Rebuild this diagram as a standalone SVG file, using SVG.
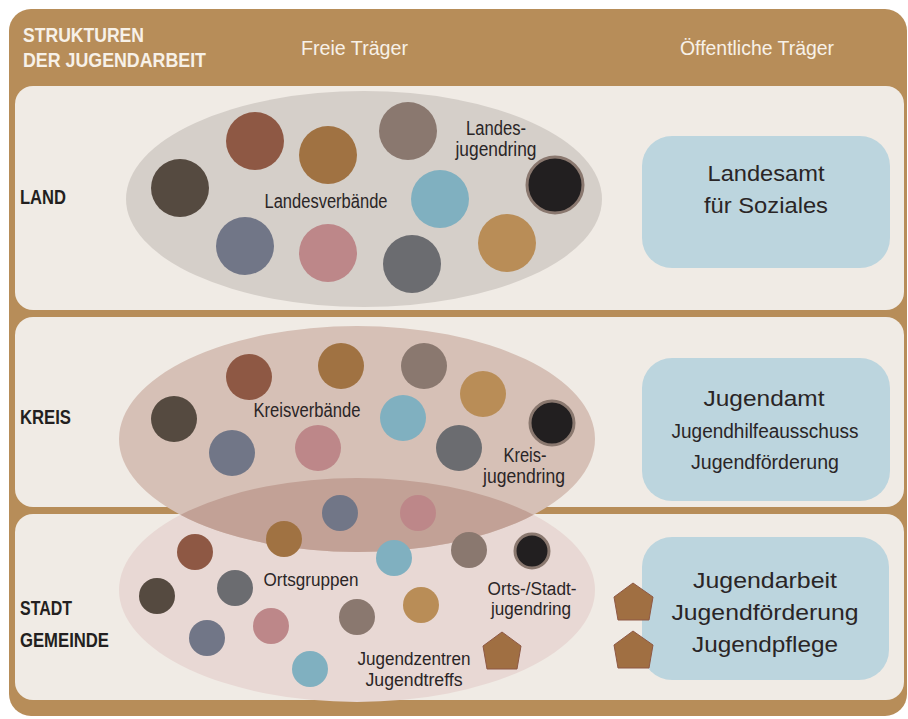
<svg xmlns="http://www.w3.org/2000/svg" width="908" height="719" viewBox="0 0 908 719">
<defs>
<style>
.panel{fill:#F0EBE5}
.t{font-family:"Liberation Sans",Arial,sans-serif;fill:#2A2526}
.lbl{font-family:"Liberation Sans",Arial,sans-serif;font-weight:bold;fill:#231F20;font-size:21px}
.hd{font-family:"Liberation Sans",Arial,sans-serif;fill:#F7F1E8;font-size:20px}
.box{fill:#BCD5DE}
.c1{fill:#554A40}.c2{fill:#8E5844}.c3{fill:#A07242}.c4{fill:#8A786F}.c5{fill:#80B0C0}
.c6{fill:#221F20;stroke:#8A786F;stroke-width:3}.c7{fill:#717687}.c8{fill:#BD8789}.c9{fill:#6B6C70}.c10{fill:#B98D57}
.pent{fill:#A06F42;stroke:#8E5844;stroke-width:1}
</style>
<clipPath id="stadtClip"><ellipse cx="357" cy="590" rx="238" ry="112"/></clipPath>
</defs>

<rect x="9" y="9" width="898" height="707" rx="22" fill="#B78D59"/>

<g id="header">
<text class="hd" font-weight="bold" x="23" y="42" textLength="121" lengthAdjust="spacingAndGlyphs">STRUKTUREN</text>
<text class="hd" font-weight="bold" x="23" y="67" textLength="183" lengthAdjust="spacingAndGlyphs">DER JUGENDARBEIT</text>
<text class="hd" x="301" y="55" textLength="107" lengthAdjust="spacingAndGlyphs">Freie Träger</text>
<text class="hd" x="680" y="55" textLength="154" lengthAdjust="spacingAndGlyphs">Öffentliche Träger</text>
</g>

<rect class="panel" x="15" y="86" width="889" height="224" rx="18"/>
<rect class="panel" x="15" y="317" width="889" height="190" rx="18"/>
<rect class="panel" x="15" y="514" width="889" height="186" rx="18"/>

<g id="row-labels">
<text class="lbl" x="20" y="204" textLength="46" lengthAdjust="spacingAndGlyphs">LAND</text>
<text class="lbl" x="20" y="424" textLength="51" lengthAdjust="spacingAndGlyphs">KREIS</text>
<text class="lbl" x="20" y="615" textLength="52" lengthAdjust="spacingAndGlyphs">STADT</text>
<text class="lbl" x="20" y="647" textLength="89" lengthAdjust="spacingAndGlyphs">GEMEINDE</text>
</g>

<g id="land-freie">
<ellipse cx="364" cy="199" rx="238" ry="108" fill="#D5CFC9"/>
<circle class="c1" cx="180" cy="188" r="29"/>
<circle class="c2" cx="255" cy="141" r="29"/>
<circle class="c3" cx="328" cy="155" r="29"/>
<circle class="c4" cx="408" cy="131" r="29"/>
<circle class="c5" cx="440" cy="199" r="29"/>
<circle class="c6" cx="555" cy="185" r="28"/>
<circle class="c7" cx="245" cy="246" r="29"/>
<circle class="c8" cx="328" cy="253" r="29"/>
<circle class="c9" cx="412" cy="264" r="29"/>
<circle class="c10" cx="507" cy="243" r="29"/>
<text class="t" x="326" y="208" font-size="20" text-anchor="middle" textLength="123" lengthAdjust="spacingAndGlyphs">Landesverbände</text>
<text class="t" x="496" y="135" font-size="20" text-anchor="middle" textLength="60" lengthAdjust="spacingAndGlyphs">Landes-</text>
<text class="t" x="496" y="156" font-size="20" text-anchor="middle" textLength="81" lengthAdjust="spacingAndGlyphs">jugendring</text>
</g>

<g id="stadt-freie">
<ellipse cx="357" cy="590" rx="238" ry="112" fill="#E8D8D4"/>
</g>

<g id="kreis-freie">
<ellipse cx="357" cy="439" rx="238" ry="113" fill="#D6C0B6"/>
<ellipse cx="357" cy="439" rx="238" ry="113" fill="#C2A196" clip-path="url(#stadtClip)"/>
<circle class="c1" cx="174" cy="419" r="23"/>
<circle class="c2" cx="249" cy="377" r="23"/>
<circle class="c3" cx="341" cy="366" r="23"/>
<circle class="c4" cx="424" cy="366" r="23"/>
<circle class="c10" cx="483" cy="394" r="23"/>
<circle class="c5" cx="403" cy="418" r="23"/>
<circle class="c6" cx="552" cy="423" r="22"/>
<circle class="c7" cx="232" cy="453" r="23"/>
<circle class="c8" cx="318" cy="448" r="23"/>
<circle class="c9" cx="459" cy="448" r="23"/>
<text class="t" x="307" y="417" font-size="20" text-anchor="middle" textLength="107" lengthAdjust="spacingAndGlyphs">Kreisverbände</text>
<text class="t" x="525" y="462" font-size="20" text-anchor="middle" textLength="43" lengthAdjust="spacingAndGlyphs">Kreis-</text>
<text class="t" x="524" y="483" font-size="20" text-anchor="middle" textLength="82" lengthAdjust="spacingAndGlyphs">jugendring</text>
</g>

<g id="stadt-items">
<circle class="c7" cx="340" cy="513" r="18"/>
<circle class="c8" cx="418" cy="513" r="18"/>
<circle class="c3" cx="284" cy="539" r="18"/>
<circle class="c2" cx="195" cy="552" r="18"/>
<circle class="c5" cx="394" cy="558" r="18"/>
<circle class="c4" cx="469" cy="550" r="18"/>
<circle class="c6" cx="532" cy="551" r="17"/>
<circle class="c1" cx="157" cy="596" r="18"/>
<circle class="c9" cx="235" cy="588" r="18"/>
<circle class="c8" cx="271" cy="626" r="18"/>
<circle class="c4" cx="357" cy="617" r="18"/>
<circle class="c10" cx="421" cy="605" r="18"/>
<circle class="c7" cx="207" cy="638" r="18"/>
<circle class="c5" cx="310" cy="669" r="18"/>
<polygon class="pent" points="502,632 521,646 517,669 487,669 483,646"/>
<text class="t" x="311" y="586" font-size="18" text-anchor="middle" textLength="95" lengthAdjust="spacingAndGlyphs">Ortsgruppen</text>
<text class="t" x="532" y="595" font-size="18" text-anchor="middle" textLength="89" lengthAdjust="spacingAndGlyphs">Orts-/Stadt-</text>
<text class="t" x="531" y="615" font-size="18" text-anchor="middle" textLength="80" lengthAdjust="spacingAndGlyphs">jugendring</text>
<text class="t" x="414" y="665" font-size="18" text-anchor="middle" textLength="113" lengthAdjust="spacingAndGlyphs">Jugendzentren</text>
<text class="t" x="414" y="686" font-size="18" text-anchor="middle" textLength="97" lengthAdjust="spacingAndGlyphs">Jugendtreffs</text>
</g>

<g id="land-oeffentlich">
<rect class="box" x="642" y="136" width="248" height="132" rx="30"/>
<text class="t" x="766" y="181" font-size="22" text-anchor="middle" textLength="117" lengthAdjust="spacingAndGlyphs">Landesamt</text>
<text class="t" x="766" y="213" font-size="22" text-anchor="middle" textLength="124" lengthAdjust="spacingAndGlyphs">für Soziales</text>
</g>

<g id="kreis-oeffentlich">
<rect class="box" x="642" y="358" width="248" height="143" rx="30"/>
<text class="t" x="764" y="406" font-size="22" text-anchor="middle" textLength="121" lengthAdjust="spacingAndGlyphs">Jugendamt</text>
<text class="t" x="765" y="438" font-size="20" text-anchor="middle" textLength="187" lengthAdjust="spacingAndGlyphs">Jugendhilfeausschuss</text>
<text class="t" x="765" y="469" font-size="20" text-anchor="middle" textLength="148" lengthAdjust="spacingAndGlyphs">Jugendförderung</text>
</g>

<g id="stadt-oeffentlich">
<rect class="box" x="642" y="537" width="247" height="143" rx="30"/>
<polygon class="pent" points="633,583 653,597 649,620 618,620 614,597"/>
<polygon class="pent" points="633,631 653,645 649,668 618,668 614,645"/>
<text class="t" x="765" y="588" font-size="22" text-anchor="middle" textLength="144" lengthAdjust="spacingAndGlyphs">Jugendarbeit</text>
<text class="t" x="765" y="620" font-size="22" text-anchor="middle" textLength="187" lengthAdjust="spacingAndGlyphs">Jugendförderung</text>
<text class="t" x="765" y="652" font-size="22" text-anchor="middle" textLength="146" lengthAdjust="spacingAndGlyphs">Jugendpflege</text>
</g>

<g id="connectors"></g>
</svg>
